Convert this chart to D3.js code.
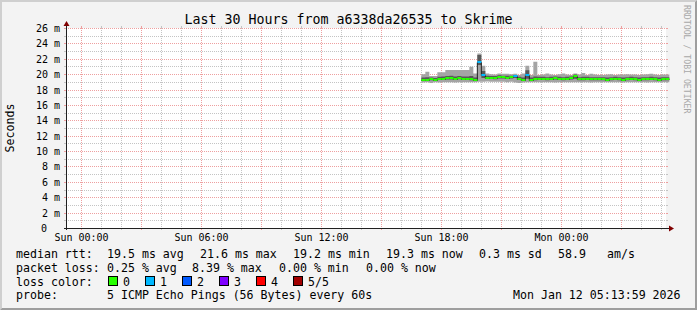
<!DOCTYPE html>
<html>
<head>
<meta charset="utf-8">
<script src="https://cdn.jsdelivr.net/npm/d3@7"></script>
<style>
	body { margin: 0; background: #f3f3f3; }
	svg { display: block; }
	text { font-family: 'DejaVu Sans Mono', monospace; fill: #000; }
</style>
</head>
<body>
<svg id="chart"></svg>
<script>
const title = 'Last 30 Hours from a6338da26535 to Skrime';
const yTitle = 'Seconds';
const watermark = 'RRDTOOL / TOBI OETIKER';

// graph window and data window (UTC so the labels do not move)
const startTime = new Date(Date.UTC(2026, 0, 10, 23, 14));
const endTime = new Date(Date.UTC(2026, 0, 12, 5, 14));
const dataStart = Date.UTC(2026, 0, 11, 17, 0);
const stepMinutes = 12;

const yMajor = [2, 4, 6, 8, 10, 12, 14, 16, 18, 20, 22, 24, 26];
const yMinor = [1, 3, 5, 7, 9, 11, 13, 15, 17, 19, 21, 23, 25];
const yLabels = [0, 2, 4, 6, 8, 10, 12, 14, 16, 18, 20, 22, 24, 26];
const xLabels = ['Sun 00:00', 'Sun 06:00', 'Sun 12:00', 'Sun 18:00', 'Mon 00:00'];
const xLabelTimes = [
	Date.UTC(2026, 0, 11, 0), Date.UTC(2026, 0, 11, 6), Date.UTC(2026, 0, 11, 12),
	Date.UTC(2026, 0, 11, 18), Date.UTC(2026, 0, 12, 0),
];

// ms, one value per 12 minute bin from Sun 17:00
const ping1 = [
	18.90, 18.95, 18.85, 18.95, 18.90, 18.95, 18.95, 18.95, 18.90, 18.95,
	18.95, 18.95, 18.95, 18.95, 19.00, 19.00, 19.05, 19.00, 19.00, 19.00,
	19.00, 18.95, 19.00, 18.90, 18.85, 18.90, 18.95, 18.95, 18.95, 18.95,
	18.95, 18.95, 18.95, 18.90, 18.95, 18.95, 18.95, 18.95, 18.95, 18.95,
	18.95, 18.95, 18.90, 18.95, 18.95, 18.95, 18.95, 18.95, 18.95, 18.95,
	18.90, 18.95, 18.95, 18.95, 18.95, 18.95, 18.90, 18.95, 18.95, 18.95,
	18.95, 18.95,
];
const ping2 = [
	19.15, 19.20, 19.20, 19.15, 19.25, 19.25, 19.30, 19.30, 19.25, 19.35,
	19.25, 19.25, 19.20, 19.15, 21.20, 19.50, 19.40, 19.40, 19.35, 19.45,
	19.45, 19.40, 19.45, 19.50, 19.25, 19.15, 19.40, 19.15, 19.20, 19.25,
	19.25, 19.20, 19.25, 19.30, 19.25, 19.20, 19.25, 19.30, 19.40, 19.20,
	19.20, 19.25, 19.20, 19.20, 19.20, 19.20, 19.15, 19.20, 19.25, 19.20,
	19.15, 19.20, 19.25, 19.20, 19.15, 19.20, 19.20, 19.25, 19.20, 19.15,
	19.20, 19.20,
];
const median = [
	19.30, 19.30, 19.35, 19.30, 19.40, 19.40, 19.45, 19.50, 19.40, 19.50,
	19.40, 19.40, 19.35, 19.30, 21.60, 19.85, 19.55, 19.55, 19.50, 19.65,
	19.60, 19.55, 19.60, 19.70, 19.40, 19.30, 19.90, 19.30, 19.35, 19.40,
	19.40, 19.35, 19.40, 19.45, 19.40, 19.35, 19.40, 19.45, 19.80, 19.35,
	19.35, 19.40, 19.35, 19.35, 19.35, 19.35, 19.30, 19.35, 19.40, 19.35,
	19.30, 19.35, 19.40, 19.35, 19.30, 19.35, 19.35, 19.40, 19.35, 19.30,
	19.35, 19.35,
];
const ping4 = [
	19.55, 19.60, 19.55, 19.50, 19.65, 19.70, 19.75, 19.80, 19.70, 19.75,
	19.70, 19.70, 19.75, 19.55, 22.50, 20.40, 19.80, 19.75, 19.75, 19.85,
	19.80, 19.80, 19.80, 19.90, 19.65, 19.55, 20.50, 19.55, 19.70, 19.65,
	19.65, 19.60, 19.65, 19.70, 19.65, 19.60, 19.65, 19.70, 19.95, 19.60,
	19.65, 19.65, 19.60, 19.60, 19.60, 19.60, 19.55, 19.60, 19.65, 19.60,
	19.55, 19.60, 19.65, 19.60, 19.55, 19.60, 19.60, 19.65, 19.60, 19.55,
	19.60, 19.60,
];
const ping5 = [
	19.98, 20.30, 19.76, 19.76, 20.24, 20.24, 20.54, 20.54, 20.54, 20.54,
	20.54, 20.54, 20.97, 20.10, 22.70, 21.10, 20.10, 20.00, 19.95, 20.10,
	20.05, 20.05, 20.00, 20.05, 19.90, 20.10, 21.10, 19.90, 21.60, 19.90,
	19.95, 20.10, 19.95, 19.90, 20.00, 20.10, 19.95, 19.90, 20.10, 19.95,
	20.15, 19.90, 20.05, 19.95, 19.90, 19.90, 19.95, 20.00, 19.90, 19.95,
	19.95, 20.00, 19.95, 19.95, 19.90, 19.95, 20.00, 20.05, 19.95, 19.90,
	19.95, 19.95,
];
const loss = [
	0, 0, 0, 0, 0, 0, 0, 0, 0, 0,
	0, 0, 0, 0, 1, 1, 0, 0, 0, 0,
	0, 0, 0, 1, 0, 0, 1, 0, 0, 0,
	0, 0, 0, 0, 0, 0, 0, 0, 0, 0,
	0, 0, 0, 0, 0, 0, 0, 0, 0, 0,
	0, 0, 0, 0, 0, 0, 0, 0, 0, 0,
	0, 0,
];

const lossLabels = ['0', '1', '2', '3', '4', '5/5'];
const lossColors = ['#26ff00', '#00b8ff', '#0059ff', '#7e00ff', '#ff0000', '#a10000'];

const legendRtt = [
	['median rtt:', 16], ['19.5 ms avg', 107], ['21.6 ms max', 200], ['19.2 ms min', 293],
	['19.3 ms now', 386], ['0.3 ms sd', 479], ['58.9', 558], ['am/s', 607],
];
const legendLoss = [
	['packet loss:', 16], ['0.25 % avg', 107], ['8.39 % max', 192], ['0.00 % min', 279], ['0.00 % now', 366],
];
const probeText = '5 ICMP Echo Pings (56 Bytes) every 60s';
const stampText = 'Mon Jan 12 05:13:59 2026';

const W = 697, H = 310;
const plotLeft = 66, plotRight = 666, plotTop = 28, plotBottom = 228;
const gridColor = '#c4c4c4';
const mgridColor = '#eea0a0';

const svg = d3.select('#chart').attr('width', W).attr('height', H);

// frame
svg.append('rect').attr('width', W).attr('height', H).attr('fill', '#f3f3f3');
svg.append('path').attr('d', `M0,${H} L2,${H - 2} L2,2 L${W - 2},2 L${W},0 L0,0 Z`).attr('fill', '#cfcfcf');
svg.append('path').attr('d', `M0,${H} L2,${H - 2} L${W - 2},${H - 2} L${W - 2},2 L${W},0 L${W},${H} Z`).attr('fill', '#9e9e9e');

svg.append('rect')
	.attr('x', plotLeft).attr('y', plotTop)
	.attr('width', plotRight - plotLeft).attr('height', plotBottom - plotTop)
	.attr('fill', '#fff');

const x = d3.scaleUtc().domain([startTime, endTime]).range([plotLeft, plotRight]);
const y = d3.scaleLinear().domain([0, 26]).range([plotBottom, plotTop]);
const px = (v) => Math.round(v) + 0.5;

const grid = svg.append('g').attr('shape-rendering', 'crispEdges');

const hLines = (vals, color) => {
	vals.forEach((v) => {
		const yy = px(y(v));
		grid.append('line').attr('x1', plotLeft).attr('x2', plotRight).attr('y1', yy).attr('y2', yy)
			.attr('stroke', color).attr('stroke-dasharray', '1,1');
		grid.append('line').attr('x1', plotLeft - 2).attr('x2', plotLeft).attr('y1', yy).attr('y2', yy).attr('stroke', color);
		grid.append('line').attr('x1', plotRight).attr('x2', plotRight + 2).attr('y1', yy).attr('y2', yy).attr('stroke', color);
	});
};
const vLines = (vals, color) => {
	vals.forEach((t) => {
		const xx = px(x(t));
		grid.append('line').attr('x1', xx).attr('x2', xx).attr('y1', plotTop).attr('y2', plotBottom)
			.attr('stroke', color).attr('stroke-dasharray', '1,1');
		grid.append('line').attr('x1', xx).attr('x2', xx).attr('y1', plotBottom).attr('y2', plotBottom + 2).attr('stroke', color);
		grid.append('line').attr('x1', xx).attr('x2', xx).attr('y1', plotTop - 2).attr('y2', plotTop).attr('stroke', color);
	});
};

const hours = d3.utcHour.range(startTime, endTime);
vLines(hours.filter((t) => t.getUTCHours() % 3 !== 0), gridColor);
hLines(yMinor, gridColor);
vLines(hours.filter((t) => t.getUTCHours() % 3 === 0), mgridColor);
hLines(yMajor, mgridColor);

// data
const step = stepMinutes * 60 * 1000;
const bins = median.map((m, i) => ({
	t0: new Date(dataStart + i * step),
	t1: new Date(dataStart + (i + 1) * step),
	p1: ping1[i], p2: ping2[i], med: m, p4: ping4[i], p5: ping5[i], loss: loss[i],
}));
const pts = [...bins.map((b) => ({ ...b, t: b.t0 })), { ...bins[bins.length - 1], t: bins[bins.length - 1].t1 }];

const plot = svg.append('g');
plot.append('path').datum(pts)
	.attr('fill', '#a4a4a4')
	.attr('d', d3.area().curve(d3.curveStepAfter).x((d) => x(d.t)).y0((d) => y(d.p1)).y1((d) => y(d.p5)));
plot.append('path').datum(pts)
	.attr('fill', '#585858')
	.attr('d', d3.area().curve(d3.curveStepAfter).x((d) => x(d.t)).y0((d) => y(d.p2)).y1((d) => y(d.p4)));
plot.append('path').datum(pts)
	.attr('fill', 'none').attr('stroke', '#202020').attr('stroke-width', 1)
	.attr('d', d3.line().curve(d3.curveStepAfter).x((d) => x(d.t)).y((d) => px(y(d.med))));
plot.selectAll('rect.med').data(bins).join('rect')
	.attr('class', 'med')
	.attr('x', (d) => x(d.t0))
	.attr('width', (d) => x(d.t1) - x(d.t0))
	.attr('y', (d) => Math.round(y(d.med)) - 1)
	.attr('height', 2)
	.attr('fill', (d) => lossColors[d.loss]);

// axes
const axes = svg.append('g').attr('shape-rendering', 'crispEdges');
axes.append('line').attr('x1', plotLeft - 2).attr('x2', plotRight + 3).attr('y1', plotBottom + 0.5).attr('y2', plotBottom + 0.5).attr('stroke', '#202020');
axes.append('line').attr('x1', plotLeft + 0.5).attr('x2', plotLeft + 0.5).attr('y1', plotBottom + 2).attr('y2', plotTop - 3).attr('stroke', '#202020');
svg.append('path').attr('d', `M${plotLeft + 0.5},${plotTop - 7} L${plotLeft + 3.5},${plotTop - 2} L${plotLeft - 2.5},${plotTop - 2} Z`).attr('fill', '#800000');
svg.append('path').attr('d', `M${plotRight + 8},${plotBottom + 0.5} L${plotRight + 3},${plotBottom - 2.5} L${plotRight + 3},${plotBottom + 3.5} Z`).attr('fill', '#800000');

// tick labels ("0" has no unit, so it sits where the digits of the others sit)
svg.append('g').selectAll('text').data(yLabels).join('text')
	.attr('x', (d) => d === 0 ? 47 : 60).attr('y', (d) => px(y(d)) + 3.5)
	.attr('text-anchor', 'end').attr('font-size', 10)
	.text((d) => d === 0 ? '0' : `${d} m`);
svg.append('g').selectAll('text').data(xLabels).join('text')
	.attr('x', (d, i) => px(x(new Date(xLabelTimes[i]))))
	.attr('y', 241)
	.attr('text-anchor', 'middle').attr('font-size', 10)
	.text((d) => d);

// titles
svg.append('text').attr('x', 348.5).attr('y', 24).attr('text-anchor', 'middle')
	.attr('font-size', 13.3).text(title);
svg.append('text').attr('transform', `translate(14, ${(plotTop + plotBottom) / 2}) rotate(-90)`)
	.attr('text-anchor', 'middle').attr('font-size', 11.6).text(yTitle);
svg.append('text').attr('transform', 'translate(684, 5) rotate(90)')
	.attr('font-size', 8.2).style('fill', '#a8a8a8').text(watermark);

// legend
const legend = svg.append('g').attr('font-size', 11.6);
legendRtt.forEach(([s, lx]) => legend.append('text').attr('x', lx).attr('y', 258).text(s));
legendLoss.forEach(([s, lx]) => legend.append('text').attr('x', lx).attr('y', 272).text(s));
legend.append('text').attr('x', 16).attr('y', 285.5).text('loss color:');
lossLabels.forEach((s, i) => {
	const lx = 108 + i * 37;
	legend.append('rect').attr('x', lx + 0.5).attr('y', 276.5).attr('width', 9).attr('height', 9)
		.attr('fill', lossColors[i]).attr('stroke', '#000');
	legend.append('text').attr('x', lx + 15).attr('y', 285.5).text(s);
});
legend.append('text').attr('x', 16).attr('y', 299).text('probe:');
legend.append('text').attr('x', 107).attr('y', 299).text(probeText);
legend.append('text').attr('x', 513).attr('y', 299).text(stampText);
</script>
</body>
</html>
